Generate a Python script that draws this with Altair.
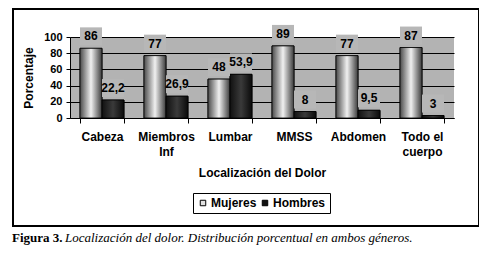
import altair as alt
import pandas as pd

categorias = ["Cabeza", "Miembros Inf", "Lumbar", "MMSS", "Abdomen", "Todo el cuerpo"]
mujeres = [86, 77, 48, 89, 77, 87]
hombres = [22.2, 26.9, 53.9, 8, 9.5, 3]
series = ["Mujeres", "Hombres"]

rows = []
for c, m, h in zip(categorias, mujeres, hombres):
    rows.append({"Cat": c, "Serie": "Mujeres", "Valor": m})
    rows.append({"Cat": c, "Serie": "Hombres", "Valor": h})
df = pd.DataFrame(rows)

FONT = "Liberation Sans"
SERIF = "Liberation Serif"

x_scale = alt.Scale(paddingInner=0.3125, paddingOuter=0.156)
x_axis = alt.Axis(title="Localización del Dolor", labelAngle=0,
                  labelExpr="datum.label == 'Miembros Inf' ? ['Miembros','Inf'] : datum.label == 'Todo el cuerpo' ? ['Todo el','cuerpo'] : datum.label",
                  tickBand="extent", tickSize=5, labelPadding=8,
                  labelFont=FONT, labelFontWeight="bold", labelFontSize=12,
                  labelColor="black", labelLineHeight=15,
                  titleFont=FONT, titleFontWeight="bold", titleFontSize=12,
                  titleColor="black", titlePadding=10,
                  domainColor="black", tickColor="black", grid=False)
x_enc = alt.X("Cat:N", sort=categorias, scale=x_scale, axis=x_axis)
xoff = alt.XOffset("Serie:N", sort=series, scale=alt.Scale(domain=series))
y_scale = alt.Scale(domain=[0, 100])
y_axis = alt.Axis(title="Porcentaje", values=[0, 20, 40, 60, 80, 100],
                  tickSize=4, labelPadding=4, labelOverlap=False,
                  labelFont=FONT, labelFontWeight="bold", labelFontSize=11,
                  labelColor="black",
                  titleFont=FONT, titleFontWeight="bold", titleFontSize=12,
                  titleColor="black", titlePadding=8,
                  domainColor="black", tickColor="black",
                  gridColor="black", gridWidth=1, gridOpacity=1)
y_enc = alt.Y("Valor:Q", scale=y_scale, axis=y_axis)

base = alt.Chart(df)

bars = base.mark_bar(stroke="black", strokeWidth=0.8).encode(
    x=x_enc, xOffset=xoff, y=y_enc,
    color=alt.Color("Serie:N", sort=series,
                    scale=alt.Scale(domain=series, range=["#e0e0e0", "#111111"]),
                    legend=alt.Legend(title=None, orient="none", legendX=123, legendY=156,
                                      direction="horizontal", symbolType="square",
                                      symbolSize=30, symbolStrokeColor="black",
                                      symbolStrokeWidth=1, labelFont=FONT,
                                      labelFontWeight="bold", labelFontSize=12,
                                      labelColor="black", strokeColor="black",
                                      padding=4, columnPadding=2, labelOffset=2)),
)

grad_m = alt.LinearGradient(gradient="linear", x1=0, x2=1, y1=0, y2=0, stops=[
    alt.GradientStop(offset=0, color="#4a4a4a"),
    alt.GradientStop(offset=0.5, color="#f0f0f0"),
    alt.GradientStop(offset=1, color="#3a3a3a")])
grad_h = alt.LinearGradient(gradient="linear", x1=0, x2=1, y1=0, y2=0, stops=[
    alt.GradientStop(offset=0, color="#111111"),
    alt.GradientStop(offset=0.5, color="#3a3a3a"),
    alt.GradientStop(offset=1, color="#0a0a0a")])

bars_m = base.transform_filter("datum.Serie == 'Mujeres'").mark_bar(
    fill=grad_m, stroke="black", strokeWidth=0.8).encode(x=x_enc, xOffset=xoff, y=y_enc)
bars_h = base.transform_filter("datum.Serie == 'Hombres'").mark_bar(
    fill=grad_h, stroke="black", strokeWidth=0.8).encode(x=x_enc, xOffset=xoff, y=y_enc)

lab = base.transform_calculate(
    lo="datum.Valor + 3.7", hi="datum.Valor + 25.9", mid="datum.Valor + 14.8",
    txt="replace(toString(datum.Valor), '.', ',')")

boxes = lab.mark_rect(fill="#b7b7b7").encode(
    x=x_enc, xOffset=xoff,
    y=alt.Y("lo:Q", scale=y_scale, axis=y_axis), y2="hi:Q")
texts = lab.mark_text(font=FONT, fontWeight="bold", fontSize=12, color="black",
                      baseline="middle").encode(
    x=x_enc, xOffset=xoff,
    y=alt.Y("mid:Q", scale=y_scale, axis=y_axis), text="txt:N")

frame = alt.Chart(pd.DataFrame({"a": [0]})).mark_rect(
    fill=None, stroke="black", strokeWidth=2).encode(
    x=alt.value(-57), x2=alt.value(409), y=alt.value(-28), y2=alt.value(189))

cap1 = alt.Chart(pd.DataFrame({"a": [0]})).mark_text(
    text="Figura 3.", font=SERIF, fontWeight="bold", fontSize=13, align="left",
    baseline="middle", color="black").encode(x=alt.value(-58), y=alt.value(201))
cap2 = alt.Chart(pd.DataFrame({"a": [0]})).mark_text(
    text="Localización del dolor. Distribución porcentual en ambos géneros.",
    font=SERIF, fontStyle="italic", fontSize=13, align="left",
    baseline="middle", color="black").encode(x=alt.value(-5), y=alt.value(201))

chart = alt.layer(bars, bars_m, bars_h, boxes, texts, frame, cap1, cap2).properties(
    width=384, height=81,
    autosize=alt.AutoSizeParams(type="none"),
    padding={"left": 62, "top": 29, "right": 25, "bottom": 135},
    background="white",
).configure_view(fill="#b3b3b3", strokeWidth=0)

chart.save("out.html", embed_options={"renderer": "svg", "actions": False})
